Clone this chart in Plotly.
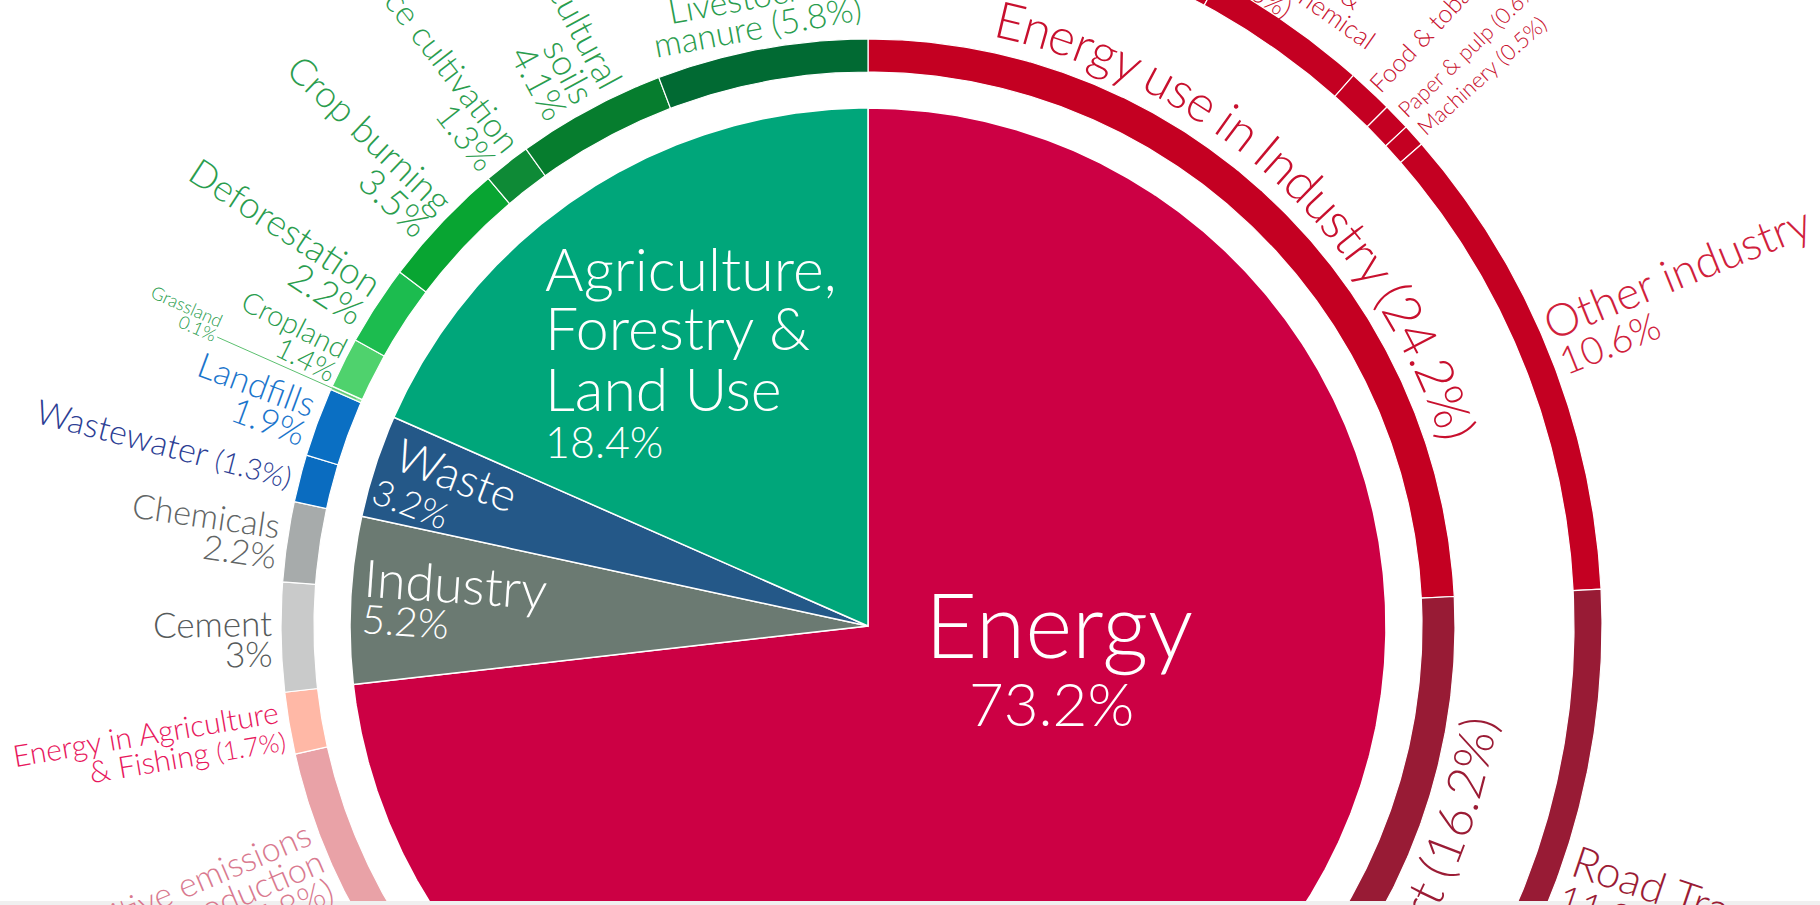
import math
import plotly.graph_objects as go

W, H = 1820, 905
CX, CY = 868, 626            # pie centre (pixels from top-left)
R_PIE = 518
R_MID = (554, 587)
R_OUT = (706, 734)

# ---------------- data ----------------
inner_labels = ["Energy", "Industry", "Waste", "Agriculture, Forestry & Land Use"]
inner_values = [73.2, 5.2, 3.2, 18.4]
inner_colors = ["#cc0044", "#6b7a72", "#245888", "#00a67a"]

mid_labels = ["Energy use in Industry", "Transport", "Energy use in buildings",
              "Unallocated fuel combustion", "Fugitive emissions from energy production",
              "Energy in Agriculture & Fishing", "Cement", "Chemicals", "Wastewater",
              "Landfills", "Grassland", "Cropland", "Deforestation", "Crop burning",
              "Rice cultivation", "Agricultural soils", "Livestock & manure"]
mid_values = [24.2, 16.2, 17.5, 7.8, 5.8, 1.7, 3.0, 2.2, 1.3, 1.9, 0.1, 1.4, 2.2, 3.5, 1.3, 4.1, 5.8]
mid_colors = ["#c40022", "#981b35", "#e05a6e", "#f07f8c", "#e9a2a7", "#ffb8a6",
              "#c9caca", "#a7abab", "#0a6cc0", "#0a6fc3", "#8fe39a", "#4fd26d",
              "#1cbc4f", "#08a532", "#0e8a36", "#067d2e", "#016a33"]

outer_labels = ["Iron & Steel", "Non-ferous metals", "Chemical & petrochemical", "Food & tobacco",
                "Paper & pulp", "Machinery", "Other industry", "Road Transport", "Aviation",
                "Rail", "Pipeline", "Ship"]
outer_values = [7.2, 0.7, 3.6, 1.0, 0.6, 0.5, 10.6, 11.9, 1.9, 0.4, 0.3, 1.7]
outer_colors = ["#c40022"] * 7 + ["#981b35"] * 5

# ---------------- helpers ----------------
EM = {' ': 0.193, 'a': 0.49, 'b': 0.55, 'c': 0.46, 'd': 0.55, 'e': 0.52, 'f': 0.32, 'g': 0.5,
      'h': 0.55, 'i': 0.24, 'j': 0.24, 'k': 0.5, 'l': 0.24, 'm': 0.82, 'n': 0.55, 'o': 0.55,
      'p': 0.55, 'q': 0.55, 'r': 0.36, 's': 0.42, 't': 0.34, 'u': 0.55, 'v': 0.5, 'w': 0.76,
      'x': 0.49, 'y': 0.5, 'z': 0.45, 'A': 0.66, 'B': 0.62, 'C': 0.66, 'D': 0.73, 'E': 0.54,
      'F': 0.52, 'G': 0.71, 'H': 0.74, 'I': 0.27, 'L': 0.48, 'M': 0.87, 'N': 0.74, 'O': 0.77,
      'P': 0.57, 'R': 0.6, 'S': 0.52, 'T': 0.56, 'W': 0.95, '.': 0.22, ',': 0.22, '%': 0.76,
      '(': 0.3, ')': 0.3, '&': 0.68, '-': 0.35}
for d in "0123456789":
    EM[d] = 0.58

FONT = "Lato, 'Open Sans', sans-serif"


def tw(s, size):
    return sum(EM.get(c, 0.55) for c in s) * size


def norm(line, size):
    return [(line, size)] if isinstance(line, str) else line


def seg_html(segs, base):
    out = ""
    for t, s in segs:
        t = t.replace("&", "&amp;")
        out += t if s == base else "<span style='font-size:%dpx'>%s</span>" % (s, t)
    return out


def nang(a):
    while a > 180:
        a -= 360
    while a <= -180:
        a += 360
    return a


anns = []


def ann(text, x, y, size, color, angle=0.0, xanchor="center"):
    # x, y in pixels from the top-left of the figure
    anns.append(dict(text=text, x=x / W, y=1 - y / H, xref="paper", yref="paper",
                     showarrow=False, textangle=nang(angle), xanchor=xanchor, yanchor="middle",
                     borderpad=0, borderwidth=0,
                     font=dict(family=FONT, size=size, color=color, weight=300)))


def radial(lines, theta, r0, size, color, spacing, inward=True, shift=0.0):
    t = math.radians(theta)
    ux, uy = math.sin(t), -math.cos(t)
    dx, dy = (-ux, -uy) if inward else (ux, uy)
    phi = math.degrees(math.atan2(dy, dx))
    nx, ny = -dy, dx
    n = len(lines)
    for i, line in enumerate(lines):
        segs = norm(line, size)
        w = sum(tw(a, b) for a, b in segs)
        off = (i - (n - 1) / 2) * spacing + shift
        ex = CX + ux * r0 + nx * off
        ey = CY + uy * r0 + ny * off
        sz = segs[0][1]
        ann(seg_html(segs, sz), ex + ux * w / 2, ey + uy * w / 2, sz, color, phi)


def tangential(lines, theta, r_first, size, color, spacing, start=None):
    # lines tangent to the circle; centred on theta, or left-aligned from 'start'
    for i, line in enumerate(lines):
        r = r_first - i * spacing
        segs = norm(line, size)
        w = sum(tw(a, b) for a, b in segs)
        th = theta if start is None else start + math.degrees(w / 2 / r)
        t = math.radians(th)
        ann(seg_html(segs, size), CX + r * math.sin(t), CY - r * math.cos(t), size, color, th)


def curved(text, theta_mid, r, size, color, ccw=False):
    widths = [EM.get(c, 0.55) * size for c in text]
    total = sum(widths)
    s = -total / 2
    tm = math.radians(theta_mid)
    for c, w in zip(text, widths):
        sc = s + w / 2
        s += w
        if c == " ":
            continue
        th = tm - sc / r if ccw else tm + sc / r
        ang = math.degrees(th) - (180 if ccw else 0)
        ann(c.replace("&", "&amp;"), CX + r * math.sin(th), CY - r * math.cos(th), size, color, ang)


def cum_angles(values):
    out, acc = [], 0.0
    for v in values:
        out.append((acc * 3.6, (acc + v) * 3.6))
        acc += v
    return out


def wedge(t0, t1, r0, r1):
    n = max(2, int(abs(t1 - t0) * 3) + 1)
    ts = [t0 + (t1 - t0) * k / (n - 1) for k in range(n)]
    xs = [r1 * math.sin(math.radians(t)) for t in ts]
    ys = [r1 * math.cos(math.radians(t)) for t in ts]
    if r0 <= 0:
        xs.append(0.0)
        ys.append(0.0)
    else:
        xs += [r0 * math.sin(math.radians(t)) for t in reversed(ts)]
        ys += [r0 * math.cos(math.radians(t)) for t in reversed(ts)]
    xs.append(xs[0])
    ys.append(ys[0])
    return xs, ys


fig = go.Figure()

inner_ang = cum_angles(inner_values)
mid_ang = cum_angles(mid_values)
outer_ang = cum_angles(outer_values)

for lab, (a0, a1), col in zip(inner_labels, inner_ang, inner_colors):
    xs, ys = wedge(a0, a1, 0, R_PIE)
    fig.add_trace(go.Scatter(x=xs, y=ys, fill="toself", fillcolor=col, mode="lines",
                             line=dict(color="white", width=1.5), name=lab, hoverinfo="name"))
for lab, (a0, a1), col in zip(mid_labels, mid_ang, mid_colors):
    xs, ys = wedge(a0, a1, R_MID[0], R_MID[1])
    fig.add_trace(go.Scatter(x=xs, y=ys, fill="toself", fillcolor=col, mode="lines",
                             line=dict(color="white", width=1.2), name=lab, hoverinfo="name"))
for lab, (a0, a1), col in zip(outer_labels, outer_ang, outer_colors):
    xs, ys = wedge(a0, a1, R_OUT[0], R_OUT[1])
    fig.add_trace(go.Scatter(x=xs, y=ys, fill="toself", fillcolor=col, mode="lines",
                             line=dict(color="white", width=1.2), name=lab, hoverinfo="name"))

mid_theta = {lab: (a0 + a1) / 2 for lab, (a0, a1) in zip(mid_labels, mid_ang)}
out_theta = {lab: (a0 + a1) / 2 for lab, (a0, a1) in zip(outer_labels, outer_ang)}
out_start = {lab: a0 for lab, (a0, a1) in zip(outer_labels, outer_ang)}

# grassland leader line
tg = math.radians(mid_theta["Grassland"])
fig.add_trace(go.Scatter(x=[560 * math.sin(tg), 712 * math.sin(tg)],
                         y=[560 * math.cos(tg), 712 * math.cos(tg)], mode="lines",
                         line=dict(color="#5cc070", width=1), hoverinfo="skip"))

# ---------------- labels ----------------
GREEN = "#2a9d4e"
R_END = R_MID[1] + 9
LS = 0.88
tangential(["Livestock &", "manure (5.8%)"], mid_theta["Livestock & manure"], 641, 34, GREEN, 30)
radial(["Agricultural", "soils", "4.1%"], mid_theta["Agricultural soils"], R_END, 36, GREEN, 36 * LS)
radial(["Rice cultivation", "1.3%"], mid_theta["Rice cultivation"], R_END, 34, GREEN, 34 * LS)
radial(["Crop burning", "3.5%"], mid_theta["Crop burning"], R_END, 37, GREEN, 37 * LS)
radial(["Deforestation", "2.2%"], mid_theta["Deforestation"], R_END, 37, GREEN, 37 * LS)
radial(["Cropland", "1.4%"], mid_theta["Cropland"], R_END - 5, 29, GREEN, 29 * LS)
radial(["Grassland", "0.1%"], mid_theta["Grassland"], 714, 18, GREEN, 16, shift=-8)
radial(["Landfills", "1.9%"], mid_theta["Landfills"], R_END, 35, "#1b75cc", 35 * LS)
radial([[("Wastewater ", 34), ("(1.3%)", 29)]], mid_theta["Wastewater"], R_END, 34, "#2c3e94", 30)
radial(["Chemicals", "2.2%"], mid_theta["Chemicals"], R_END, 34, "#616565", 31)
radial(["Cement", "3%"], mid_theta["Cement"], R_END, 35, "#555a5a", 30)
radial(["Energy in Agriculture", [("& Fishing ", 30), ("(1.7%)", 26)]],
       mid_theta["Energy in Agriculture & Fishing"], R_END, 30, "#e8175d", 29)
radial(["Fugitive emissions", "from energy production", "(5.8%)"],
       mid_theta["Fugitive emissions from energy production"], R_END, 34, "#d97a8f", 34 * LS)

R_START = R_OUT[1] + 8
radial(["Food & tobacco (1%)"], out_theta["Food & tobacco"], R_START, 25, "#c8102e", 0, inward=False)
radial(["Paper & pulp (0.6%)"], out_theta["Paper & pulp"], R_START, 22, "#c8102e", 0, inward=False)
radial(["Machinery (0.5%)"], out_theta["Machinery"], R_START, 22, "#c8102e", 0, inward=False)
radial(["Other industry", [("10.6%", 38)]], out_theta["Other industry"], R_START, 45, "#d0213c", 40,
       inward=False, shift=-6)
radial(["Road Transport", [("11.9%", 38)]], out_theta["Road Transport"], R_START, 44, "#9b1c35", 40,
       inward=False, shift=16)
tangential(["Chemical &", "petrochemical", "(3.6%)"], 0, 791, 26, "#c8102e", 23,
           start=out_start["Chemical & petrochemical"] + 0.6)

curved("Energy use in Industry (24.2%)", mid_theta["Energy use in Industry"] - 1.3, 622, 51, "#c8102e")
curved("Transport (16.2%)", mid_theta["Transport"], 617, 50, "#9b1c35", ccw=True)

# inner pie labels (white)
ann("Energy", 1059, 623, 90, "white")
ann("73.2%", 1051, 703, 60, "white")
ann("Agriculture,", 545, 268, 59, "white", xanchor="left")
ann("Forestry &amp;", 545, 328, 59, "white", xanchor="left")
ann("Land Use", 545, 388, 59, "white", xanchor="left")
ann("18.4%", 545, 441, 43, "white", xanchor="left")
ann("Waste", 457, 474, 46, "white", 21)
ann("3.2%", 411, 503, 36, "white", 21)
ann("Industry", 455, 583, 52, "white", 4)
ann("5.2%", 405, 621, 40, "white", 4)

fig.update_layout(
    width=W, height=H, margin=dict(l=0, r=0, t=0, b=0),
    paper_bgcolor="white", plot_bgcolor="white", showlegend=False,
    xaxis=dict(range=[-CX, W - CX], visible=False, fixedrange=True),
    yaxis=dict(range=[CY - H, CY], visible=False, fixedrange=True),
    annotations=anns,
    shapes=[dict(type="rect", xref="paper", yref="paper", x0=0, x1=1, y0=0, y1=4 / H,
                 fillcolor="#f0f0f0", line=dict(width=0), layer="above")],
)

fig.write_html("out.html", config={"displayModeBar": False},
               post_script="document.body.style.margin='0px';")
